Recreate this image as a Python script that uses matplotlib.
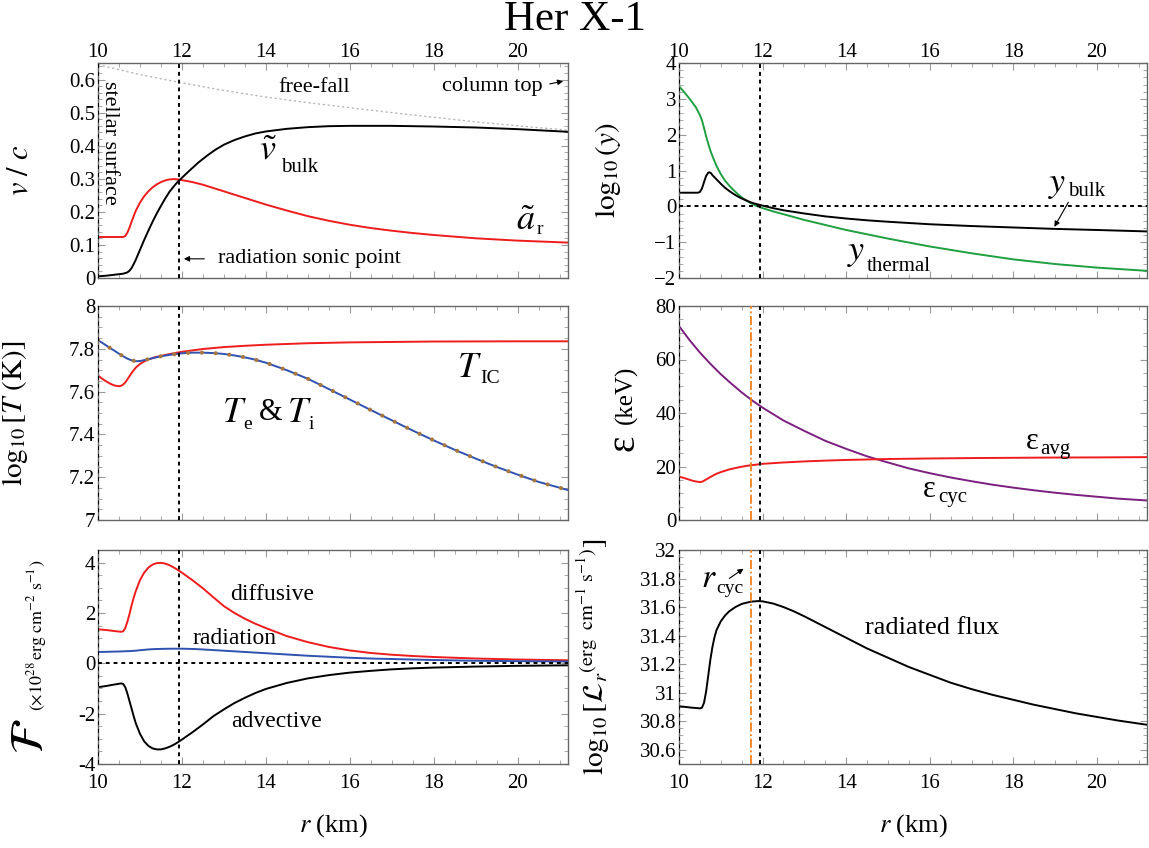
import matplotlib
matplotlib.use("Agg")
import matplotlib.pyplot as plt
from matplotlib.ticker import MultipleLocator

plt.rcParams['font.family'] = ['Liberation Serif', 'DejaVu Serif']
plt.rcParams['mathtext.fontset'] = 'stix'

# ---------------- data ----------------
# top-left: v/c
r_vb = [10.0, 10.2, 10.4, 10.6, 10.7, 10.75, 10.8, 10.85, 10.9, 11.0, 11.1, 11.2, 11.3, 11.4, 11.5,
        11.6, 11.7, 11.8, 11.9, 12.0, 12.2, 12.4, 12.6, 12.8, 13.0, 13.25, 13.5, 13.75, 14.0, 14.5,
        15.0, 15.5, 16.0, 17.0, 18.0, 19.0, 20.0, 21.2]
v_bulk = [0.005, 0.007, 0.01, 0.013, 0.017, 0.022, 0.03, 0.042, 0.055, 0.085, 0.115, 0.143, 0.17,
          0.195, 0.218, 0.24, 0.26, 0.276, 0.291, 0.303, 0.327, 0.35, 0.37, 0.388, 0.403, 0.417,
          0.428, 0.437, 0.443, 0.451, 0.456, 0.459, 0.46, 0.46, 0.458, 0.455, 0.45, 0.442]
r_ar = [10.0, 10.6, 10.65, 10.7, 10.75, 10.8, 10.85, 10.9, 11.0, 11.1, 11.2, 11.3, 11.4, 11.5, 11.6,
        11.7, 11.8, 11.9, 12.0, 12.25, 12.5, 12.75, 13.0, 13.5, 14.0, 14.5, 15.0, 15.5, 16.0, 16.5,
        17.0, 17.5, 18.0, 19.0, 20.0, 21.2]
a_r = [0.124, 0.124, 0.127, 0.137, 0.152, 0.17, 0.187, 0.203, 0.228, 0.247, 0.262, 0.274, 0.283,
       0.29, 0.295, 0.298, 0.299, 0.298, 0.296, 0.29, 0.282, 0.272, 0.262, 0.242, 0.222, 0.204,
       0.187, 0.173, 0.161, 0.151, 0.143, 0.136, 0.13, 0.12, 0.113, 0.107]
r_ff = [10.0, 11.0, 12.0, 13.0, 14.0, 15.0, 16.0, 17.0, 18.0, 19.0, 20.0, 21.2]
v_ff = [0.645, 0.615, 0.59, 0.567, 0.547, 0.53, 0.515, 0.5, 0.486, 0.472, 0.46, 0.447]

# top-right: log10(y)
r_yt = [10.0, 10.1, 10.2, 10.3, 10.4, 10.45, 10.5, 10.55, 10.6, 10.65, 10.7, 10.75, 10.8, 10.9,
        11.0, 11.1, 11.2, 11.3, 11.4, 11.5, 11.6, 11.7, 11.8, 11.9, 12.0, 12.25, 12.5, 12.75, 13.0,
        13.5, 14.0, 14.5, 15.0, 15.5, 16.0, 17.0, 18.0, 19.0, 20.0, 21.2]
y_thermal = [3.35, 3.22, 3.08, 2.93, 2.77, 2.66, 2.55, 2.4, 2.18, 1.95, 1.75, 1.56, 1.4, 1.12, 0.9,
             0.72, 0.58, 0.46, 0.35, 0.25, 0.17, 0.1, 0.04, -0.01, -0.05, -0.14, -0.22, -0.3,
             -0.38, -0.52, -0.66, -0.78, -0.9, -1.01, -1.12, -1.31, -1.48, -1.61, -1.71, -1.8]
r_yb = [10.0, 10.45, 10.5, 10.55, 10.6, 10.65, 10.7, 10.73, 10.77, 10.8, 10.9, 11.0, 11.1, 11.2,
        11.3, 11.4, 11.5, 11.6, 11.7, 11.8, 12.0, 12.25, 12.5, 13.0, 13.5, 14.0, 14.5, 15.0, 16.0,
        17.0, 18.0, 19.0, 20.0, 21.2]
y_bulk = [0.38, 0.38, 0.4, 0.5, 0.68, 0.85, 0.94, 0.95, 0.92, 0.87, 0.75, 0.63, 0.52, 0.43, 0.35,
          0.28, 0.22, 0.17, 0.12, 0.08, 0.02, -0.05, -0.11, -0.2, -0.28, -0.34, -0.39, -0.43,
          -0.5, -0.55, -0.59, -0.63, -0.66, -0.7]

# middle-left: log10[T (K)]
r_T = [10.0, 10.1, 10.2, 10.3, 10.4, 10.5, 10.6, 10.7, 10.8, 10.9, 11.0, 11.1, 11.25, 11.5, 11.75,
       12.0, 12.25, 12.5, 12.75, 13.0, 13.25, 13.5, 13.75, 14.0, 14.5, 15.0, 15.5, 16.0, 16.5,
       17.0, 17.5, 18.0, 18.5, 19.0, 19.5, 20.0, 20.5, 21.2]
T_e = [7.84, 7.828, 7.815, 7.802, 7.79, 7.777, 7.765, 7.754, 7.746, 7.742, 7.743, 7.747, 7.754,
       7.765, 7.773, 7.779, 7.782, 7.782, 7.78, 7.776, 7.769, 7.76, 7.749, 7.735, 7.7, 7.66, 7.612,
       7.563, 7.514, 7.466, 7.418, 7.372, 7.328, 7.287, 7.248, 7.212, 7.178, 7.14]
r_IC = [10.0, 10.1, 10.2, 10.3, 10.4, 10.5, 10.55, 10.6, 10.65, 10.7, 10.75, 10.8, 10.9, 11.0,
        11.1, 11.2, 11.35, 11.5, 11.75, 12.0, 12.5, 13.0, 13.5, 14.0, 15.0, 16.0, 17.0, 18.0,
        20.0, 21.2]
T_IC = [7.675, 7.66, 7.647, 7.636, 7.628, 7.625, 7.627, 7.633, 7.643, 7.657, 7.672, 7.687, 7.712,
        7.729, 7.741, 7.75, 7.76, 7.767, 7.777, 7.786, 7.799, 7.808, 7.814, 7.819, 7.826, 7.83,
        7.832, 7.834, 7.835, 7.835]

# middle-right: energies (keV)
r_cyc = [10.0, 10.25, 10.5, 10.75, 11.0, 11.25, 11.5, 11.75, 12.0, 12.5, 13.0, 13.5, 14.0, 14.5,
         15.0, 15.5, 16.0, 16.5, 17.0, 17.5, 18.0, 18.5, 19.0, 19.5, 20.0, 20.5, 21.2]
e_cyc = [72.5, 67.3, 62.6, 58.4, 54.5, 51.0, 47.7, 44.7, 42.0, 37.2, 33.3, 29.6, 26.6, 23.8, 21.5,
         19.3, 17.5, 15.9, 14.5, 13.2, 12.1, 11.1, 10.2, 9.4, 8.7, 8.0, 7.3]
r_avg = [10.0, 10.1, 10.2, 10.3, 10.4, 10.5, 10.55, 10.6, 10.7, 10.8, 10.9, 11.0, 11.2, 11.4, 11.6,
         11.8, 12.0, 12.5, 13.0, 13.5, 14.0, 15.0, 16.0, 17.0, 18.0, 19.0, 20.0, 21.2]
e_avg = [16.2, 15.8, 15.3, 14.8, 14.4, 14.2, 14.3, 14.7, 15.6, 16.5, 17.3, 17.9, 18.9, 19.6, 20.2,
         20.6, 21.0, 21.5, 21.9, 22.2, 22.45, 22.8, 23.0, 23.15, 23.25, 23.35, 23.4, 23.5]

# bottom-left: fluxes (x 1e28 erg cm^-2 s^-1)
r_F = [10.0, 10.2, 10.4, 10.55, 10.6, 10.65, 10.7, 10.75, 10.8, 10.85, 10.9, 11.0, 11.1, 11.2,
       11.3, 11.4, 11.5, 11.6, 11.7, 11.8, 11.9, 12.0, 12.25, 12.5, 12.75, 13.0, 13.25, 13.5,
       13.75, 14.0, 14.5, 15.0, 15.5, 16.0, 16.5, 17.0, 17.5, 18.0, 19.0, 20.0, 21.2]
F_diff = [1.35, 1.32, 1.28, 1.25, 1.27, 1.4, 1.65, 1.95, 2.3, 2.6, 2.87, 3.3, 3.6, 3.8, 3.92, 3.98,
          3.99, 3.96, 3.9, 3.81, 3.71, 3.6, 3.3, 2.98, 2.62, 2.27, 2.0, 1.77, 1.57, 1.4, 1.08,
          0.84, 0.65, 0.51, 0.41, 0.34, 0.29, 0.25, 0.19, 0.15, 0.12]
F_rad = [0.45, 0.455, 0.465, 0.47, 0.475, 0.48, 0.48, 0.485, 0.49, 0.495, 0.5, 0.52, 0.535, 0.55,
         0.56, 0.567, 0.572, 0.576, 0.578, 0.58, 0.58, 0.58, 0.57, 0.55, 0.525, 0.5, 0.475, 0.45,
         0.425, 0.4, 0.35, 0.3, 0.26, 0.22, 0.19, 0.17, 0.15, 0.13, 0.1, 0.085, 0.07]
F_adv = [-0.95, -0.9, -0.84, -0.8, -0.82, -0.95, -1.2, -1.5, -1.8, -2.1, -2.38, -2.8, -3.1, -3.28,
         -3.38, -3.42, -3.42, -3.38, -3.32, -3.24, -3.14, -3.03, -2.74, -2.43, -2.1, -1.83, -1.58,
         -1.37, -1.18, -1.02, -0.78, -0.6, -0.47, -0.37, -0.3, -0.24, -0.2, -0.17, -0.13, -0.1,
         -0.08]

# bottom-right: log10[L_r]
r_L = [10.0, 10.3, 10.5, 10.55, 10.6, 10.65, 10.7, 10.75, 10.8, 10.85, 10.9, 11.0, 11.1, 11.2,
       11.35, 11.5, 11.72, 11.9, 12.0, 12.25, 12.5, 12.75, 13.0, 13.5, 14.0, 14.5, 15.0, 15.5, 16.0,
       16.5, 17.0, 17.5, 18.0, 18.5, 19.0, 19.5, 20.0, 20.5, 21.2]
L_r = [30.905, 30.895, 30.89, 30.895, 30.93, 31.01, 31.12, 31.23, 31.32, 31.39, 31.44, 31.5, 31.54,
       31.57, 31.6, 31.622, 31.638, 31.642, 31.64, 31.625, 31.6, 31.57, 31.535, 31.46, 31.385,
       31.31, 31.245, 31.18, 31.125, 31.07, 31.025, 30.985, 30.95, 30.915, 30.885, 30.855, 30.83,
       30.805, 30.775]

r_sonic = 11.93
r_cycl = 11.72
x_ticks = [10, 12, 14, 16, 18, 20]
XMIN, XMAX = 10.0, 21.2

# ---------------- figure ----------------
W, H = 1149, 848
fig = plt.figure(figsize=(W / 100, H / 100), dpi=100)

def box(x0, y0, x1, y1):
    return [x0 / W, 1 - y1 / H, (x1 - x0) / W, (y1 - y0) / H]

LX = (98, 568)
RX = (679, 1147)
ROWS = [(63, 278), (306, 520), (550, 764)]

RED = '#ee1c1c'
BLUE = '#2f52b0'
GREEN = '#1fa040'
PURPLE = '#7c1f80'
ORANGE = '#f0801a'
DOTC = '#a8773e'
TICKC = '#9a9a9a'
TS = 15

def setup(ax, ylim, ymaj, ymin, top_labels=False, bottom_labels=False):
    ax.set_xlim(XMIN, XMAX)
    ax.set_ylim(*ylim)
    ax.set_xticks(x_ticks)
    ax.xaxis.set_minor_locator(MultipleLocator(0.5))
    ax.yaxis.set_major_locator(MultipleLocator(ymaj))
    ax.yaxis.set_minor_locator(MultipleLocator(ymin))
    ax.tick_params(which='both', direction='in', top=True, right=True, color=TICKC,
                   labelsize=TS, labeltop=top_labels, labelbottom=bottom_labels)
    ax.tick_params(which='major', length=5, width=0.8, pad=2)
    ax.tick_params(which='minor', length=3, width=0.6)
    ax.tick_params(axis='x', which='major', pad=7 if bottom_labels else 1)
    for s in ax.spines.values():
        s.set_color('#666666')
        s.set_linewidth(1.0)
    ax.axvline(XMIN, color='black', ls=(0, (2, 2)), lw=1.4, zorder=5)
    ax.axvline(r_sonic, color='black', ls=(0, (2, 2)), lw=1.4, zorder=5)

# --- top-left
ax1 = fig.add_axes(box(LX[0], ROWS[0][0], LX[1], ROWS[0][1]))
setup(ax1, (0, 0.65), 0.1, 0.02, top_labels=True)
ax1.plot(r_ff, v_ff, color='#b5b5b5', ls=(0, (1.5, 2)), lw=1.0)
ax1.plot(r_ar, a_r, color=RED, lw=1.4)
ax1.plot(r_vb, v_bulk, color='black', lw=1.4)
ax1.set_yticks([0, 0.1, 0.2, 0.3, 0.4, 0.5, 0.6])
ax1.set_yticklabels(['0', '0.1', '0.2', '0.3', '0.4', '0.5', '0.6'])
ax1.text(10.27, 0.41, 'stellar surface', rotation=-90, ha='center', va='center', fontsize=16)
ax1.text(15.15, 0.575, 'free-fall', ha='center', va='center', fontsize=16)
ax1.text(19.4, 0.58, 'column top', ha='center', va='center', fontsize=16)
ax1.annotate('', xy=(21.15, 0.597), xytext=(20.7, 0.585),
             arrowprops=dict(arrowstyle='-|>', color='black', lw=0.8, mutation_scale=8))
ax1.text(14.05, 0.385, r'$\tilde{v}$', fontsize=26, ha='center', va='center')
ax1.text(14.35, 0.335, 'bulk', fontsize=15, ha='left', va='center')
ax1.text(20.2, 0.17, r'$\tilde{a}$', fontsize=26, ha='center', va='center')
ax1.text(20.45, 0.148, 'r', fontsize=14, ha='left', va='center')
ax1.annotate('', xy=(r_sonic + 0.05, 0.058), xytext=(12.6, 0.058),
             arrowprops=dict(arrowstyle='-|>', color='black', lw=0.8, mutation_scale=8))
ax1.text(12.85, 0.058, 'radiation sonic point', ha='left', va='center', fontsize=16)
ax1.set_ylabel(r'$v\ /\ c$', fontsize=22)
ax1.yaxis.set_label_coords(-0.135, 0.5)

# --- top-right
ax2 = fig.add_axes(box(RX[0], ROWS[0][0], RX[1], ROWS[0][1]))
setup(ax2, (-2, 4), 1, 0.2, top_labels=True)
ax2.axhline(0, color='black', ls=(0, (2, 2)), lw=1.4, zorder=5)
ax2.plot(r_yt, y_thermal, color=GREEN, lw=1.4)
ax2.plot(r_yb, y_bulk, color='black', lw=1.4)
ax2.text(19.05, 0.62, r'$y$', fontsize=26, ha='center', va='center')
ax2.text(19.3, 0.4, 'bulk', fontsize=15, ha='left', va='center')
ax2.annotate('', xy=(18.95, -0.64), xytext=(19.35, 0.18),
             arrowprops=dict(arrowstyle='-|>', color='black', lw=0.8, mutation_scale=8))
ax2.text(14.25, -1.28, r'$y$', fontsize=26, ha='center', va='center')
ax2.text(14.5, -1.67, 'thermal', fontsize=15, ha='left', va='center')
ax2.set_ylabel(r'$\log_{10}(y)$', fontsize=21)
ax2.yaxis.set_label_coords(-0.12, 0.5)

# --- middle-left
ax3 = fig.add_axes(box(LX[0], ROWS[1][0], LX[1], ROWS[1][1]))
setup(ax3, (7, 8), 0.2, 0.05)
ax3.plot(r_IC, T_IC, color=RED, lw=1.4)
ax3.plot(r_T, T_e, color=BLUE, lw=1.4)
ax3.plot(r_T, T_e, color=DOTC, lw=3.0, ls=(0, (0.01, 3.3)), dash_capstyle='round')
ax3.set_yticks([7, 7.2, 7.4, 7.6, 7.8, 8])
ax3.set_yticklabels(['7', '7.2', '7.4', '7.6', '7.8', '8'])
ax3.text(18.85, 7.71, r'$T$', fontsize=26, ha='center', va='center')
ax3.text(19.1, 7.66, 'IC', fontsize=14, ha='left', va='center')
ax3.text(13.25, 7.5, r'$T$', fontsize=26, ha='center', va='center')
ax3.text(13.47, 7.445, 'e', fontsize=14, ha='left', va='center')
ax3.text(14.12, 7.5, '&', fontsize=22, ha='center', va='center')
ax3.text(14.8, 7.5, r'$T$', fontsize=26, ha='center', va='center')
ax3.text(15.02, 7.445, 'i', fontsize=14, ha='left', va='center')
ax3.set_ylabel(r'$\log_{10}[T\ (\mathrm{K})]$', fontsize=21)
ax3.yaxis.set_label_coords(-0.145, 0.5)

# --- middle-right
ax4 = fig.add_axes(box(RX[0], ROWS[1][0], RX[1], ROWS[1][1]))
setup(ax4, (0, 80), 20, 5)
ax4.axvline(r_cycl, color=ORANGE, ls=(0, (5, 1.5, 1, 1.5)), lw=1.3, zorder=4)
ax4.plot(r_cyc, e_cyc, color=PURPLE, lw=1.4)
ax4.plot(r_avg, e_avg, color=RED, lw=1.4)
ax4.text(18.45, 29.5, 'ε', fontsize=22, ha='center', va='center')
ax4.text(18.65, 26.5, 'avg', fontsize=15, ha='left', va='center')
ax4.text(16.0, 11.5, 'ε', fontsize=22, ha='center', va='center')
ax4.text(16.2, 8.5, 'cyc', fontsize=15, ha='left', va='center')
ax4.text(-0.118, 0.36, 'ε', fontsize=28, rotation=90, ha='center', va='center',
         transform=ax4.transAxes)
ax4.text(-0.113, 0.585, '(keV)', fontsize=18, rotation=90, ha='center', va='center',
         transform=ax4.transAxes)

# --- bottom-left
ax5 = fig.add_axes(box(LX[0], ROWS[2][0], LX[1], ROWS[2][1]))
setup(ax5, (-4, 4.5), 2, 0.5, bottom_labels=True)
ax5.axhline(0, color='black', ls=(0, (2, 2)), lw=1.4, zorder=5)
ax5.plot(r_F, F_diff, color=RED, lw=1.4)
ax5.plot(r_F, F_rad, color=BLUE, lw=1.4)
ax5.plot(r_F, F_adv, color='black', lw=1.4)
ax5.set_yticks([-4, -2, 0, 2, 4])
ax5.set_yticklabels(['-4', '-2', '0', '2', '4'])
ax5.text(14.15, 2.75, 'diffusive', ha='center', va='center', fontsize=17)
ax5.text(13.25, 0.98, 'radiation', ha='center', va='center', fontsize=17)
ax5.text(14.25, -2.33, 'advective', ha='center', va='center', fontsize=17)
ax5.text(-0.14, 0.13, r'$\mathcal{F}$', fontsize=34, rotation=90, ha='center', va='center',
         transform=ax5.transAxes)
ax5.text(-0.13, 0.6, r'$(\times10^{28}\,\mathrm{erg\ cm^{-2}\ s^{-1}})$', fontsize=13,
         rotation=90, ha='center', va='center', transform=ax5.transAxes)
ax5.set_xlabel(r'$r$ (km)', fontsize=19, labelpad=14)

# --- bottom-right
ax6 = fig.add_axes(box(RX[0], ROWS[2][0], RX[1], ROWS[2][1]))
setup(ax6, (30.5, 32), 0.2, 0.05, bottom_labels=True)
ax6.axvline(r_cycl, color=ORANGE, ls=(0, (5, 1.5, 1, 1.5)), lw=1.3, zorder=4)
ax6.plot(r_L, L_r, color='black', lw=1.4)
ax6.set_yticks([30.6, 30.8, 31.0, 31.2, 31.4, 31.6, 31.8, 32.0])
ax6.set_yticklabels(['30.6', '30.8', '31', '31.2', '31.4', '31.6', '31.8', '32'])
ax6.text(16.05, 31.45, 'radiated flux', ha='center', va='center', fontsize=19)
ax6.text(10.72, 31.8, r'$r$', fontsize=24, ha='center', va='center')
ax6.text(10.88, 31.73, 'cyc', fontsize=14, ha='left', va='center')
ax6.annotate('', xy=(11.6, 31.88), xytext=(11.15, 31.79),
             arrowprops=dict(arrowstyle='-|>', color='black', lw=0.8, mutation_scale=8))
ax6.set_ylabel(r'$\log_{10}[\mathcal{L}_r{}^{(\mathrm{erg\ \ cm^{-1}\ s^{-1}})}]$', fontsize=21)
ax6.yaxis.set_label_coords(-0.14, 0.5)
ax6.set_xlabel(r'$r$ (km)', fontsize=19, labelpad=14)

fig.text(575 / W, 1 - 20 / H, 'Her X-1', ha='center', va='center', fontsize=31)

fig.savefig('out.png', dpi=100)
